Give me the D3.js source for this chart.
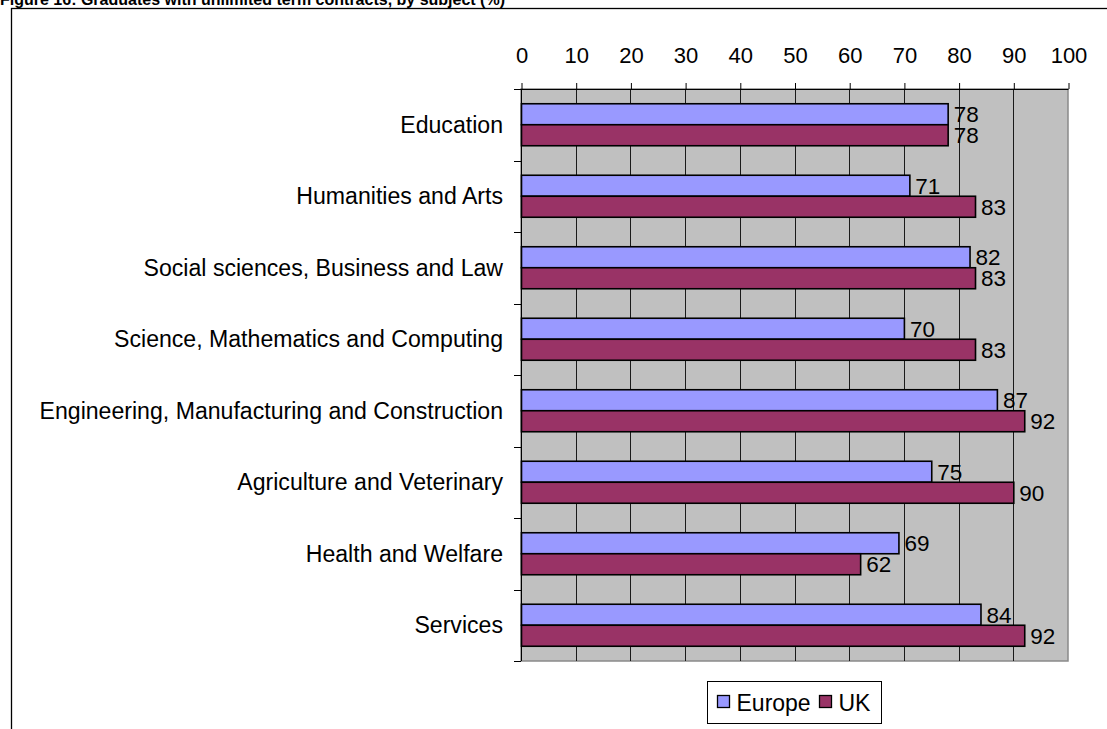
<!DOCTYPE html>
<html>
<head>
<meta charset="utf-8">
<script src="https://cdn.jsdelivr.net/npm/d3@7"></script>
<style>
  html, body { margin: 0; padding: 0; background: #fff; overflow: hidden; }
  svg { display: block; font-family: "Liberation Sans", Arial, sans-serif; }
</style>
</head>
<body>
<svg id="chart" width="1107" height="729"></svg>
<script>
// Subjects, top to bottom
const categories = [
  "Education",
  "Humanities and Arts",
  "Social sciences, Business and Law",
  "Science, Mathematics and Computing",
  "Engineering, Manufacturing and Construction",
  "Agriculture and Veterinary",
  "Health and Welfare",
  "Services"
];
const seriesNames = ["Europe", "UK"];
const europeValues = [78, 71, 82, 70, 87, 75, 69, 84];
const ukValues = [78, 83, 83, 83, 92, 90, 62, 92];
const xTicks = [0, 10, 20, 30, 40, 50, 60, 70, 80, 90, 100];
const seriesColors = ["#9999FF", "#993366"];
const titleText = "Figure 16: Graduates with unlimited term contracts, by subject (%)";

const svg = d3.select("#chart");
const W = 1107, H = 729;
const plot = { left: 521, right: 1068, top: 89, bottom: 661 };

// Title (partly above the page edge) and outer frame
svg.append("text")
  .attr("x", 0).attr("y", 5)
  .attr("font-size", 16).attr("font-weight", "bold")
  .text(titleText);

svg.append("rect")
  .attr("x", 11.5).attr("y", 8.5)
  .attr("width", W + 20).attr("height", H + 20)
  .attr("fill", "none").attr("stroke", "#000").attr("stroke-width", 1.3);

// Scales
const x = d3.scaleLinear().domain([0, 100]).range([plot.left, plot.right]);
const pad = 0.4126;
const y = d3.scaleBand().domain(categories)
  .range([plot.top, plot.bottom])
  .paddingInner(pad).paddingOuter(pad / 2);
const ySub = d3.scaleBand().domain(seriesNames).range([0, y.bandwidth()]);

// Plot background
svg.append("rect")
  .attr("x", plot.left).attr("y", plot.top)
  .attr("width", plot.right - plot.left).attr("height", plot.bottom - plot.top)
  .attr("fill", "#C0C0C0").attr("stroke", "#8a8a8a").attr("stroke-width", 1.5);

// Vertical gridlines
svg.append("g").selectAll("line")
  .data(xTicks.filter(t => t > 0 && t < 100))
  .join("line")
  .attr("x1", d => Math.round(x(d)) + 0.5).attr("x2", d => Math.round(x(d)) + 0.5)
  .attr("y1", plot.top).attr("y2", plot.bottom)
  .attr("stroke", "#1a1a1a").attr("stroke-width", 1);

// Top value axis
const xAxis = d3.axisTop(x).tickValues(xTicks).tickSize(6).tickPadding(20).tickFormat(d3.format("d"));
const gx = svg.append("g")
  .attr("transform", `translate(0.5,${plot.top})`)
  .call(xAxis);
gx.select(".domain").attr("stroke", "#000").attr("d", `M${plot.left - 7},0.5H${plot.right}`);
gx.selectAll(".tick line").attr("stroke", "#000");
gx.selectAll(".tick text")
  .attr("font-size", 22).attr("font-family", "Liberation Sans, Arial, sans-serif")
  .attr("fill", "#000");

// Left category axis: line, ticks at band boundaries, labels
const boundaries = categories.map(c => y(c) - y.step() * pad / 2).concat([plot.bottom]);
svg.append("line")
  .attr("x1", plot.left + 0.5).attr("x2", plot.left + 0.5)
  .attr("y1", plot.top).attr("y2", plot.bottom)
  .attr("stroke", "#000");
svg.append("g").selectAll("line")
  .data(boundaries)
  .join("line")
  .attr("x1", plot.left - 7).attr("x2", plot.left)
  .attr("y1", d => Math.round(d) + 0.5).attr("y2", d => Math.round(d) + 0.5)
  .attr("stroke", "#000");

svg.append("g").selectAll("text")
  .data(categories)
  .join("text")
  .attr("x", 503)
  .attr("y", d => y(d) + y.bandwidth() / 2)
  .attr("dy", "0.35em")
  .attr("text-anchor", "end")
  .attr("font-size", 23.1)
  .text(d => d);

// Bars and value labels
const rows = categories.map((c, i) => ({
  category: c,
  values: [
    { series: "Europe", value: europeValues[i], color: seriesColors[0] },
    { series: "UK", value: ukValues[i], color: seriesColors[1] }
  ]
}));

const groups = svg.append("g").selectAll("g")
  .data(rows)
  .join("g")
  .attr("transform", d => `translate(0,${y(d.category)})`);

groups.selectAll("rect")
  .data(d => d.values)
  .join("rect")
  .attr("x", x(0) + 0.5)
  .attr("y", d => ySub(d.series))
  .attr("width", d => x(d.value) - x(0))
  .attr("height", ySub.bandwidth())
  .attr("fill", d => d.color)
  .attr("stroke", "#000").attr("stroke-width", 1.6);

groups.selectAll("text")
  .data(d => d.values)
  .join("text")
  .attr("x", d => x(d.value) + 6)
  .attr("y", d => ySub(d.series) + ySub.bandwidth() / 2)
  .attr("dy", "0.36em")
  .attr("font-size", 22.5)
  .text(d => d.value);

// Legend
const legend = svg.append("g").attr("transform", "translate(707.5,681.5)");
legend.append("rect")
  .attr("width", 174).attr("height", 42)
  .attr("fill", "#fff").attr("stroke", "#000");
const legendX = [10, 112];
seriesNames.forEach((name, i) => {
  legend.append("rect")
    .attr("x", legendX[i]).attr("y", 14)
    .attr("width", 12).attr("height", 12)
    .attr("fill", seriesColors[i]).attr("stroke", "#000").attr("stroke-width", 1.3);
  legend.append("text")
    .attr("x", legendX[i] + 19).attr("y", 21)
    .attr("dy", "0.36em")
    .attr("font-size", 23)
    .text(name);
});
</script>
</body>
</html>
